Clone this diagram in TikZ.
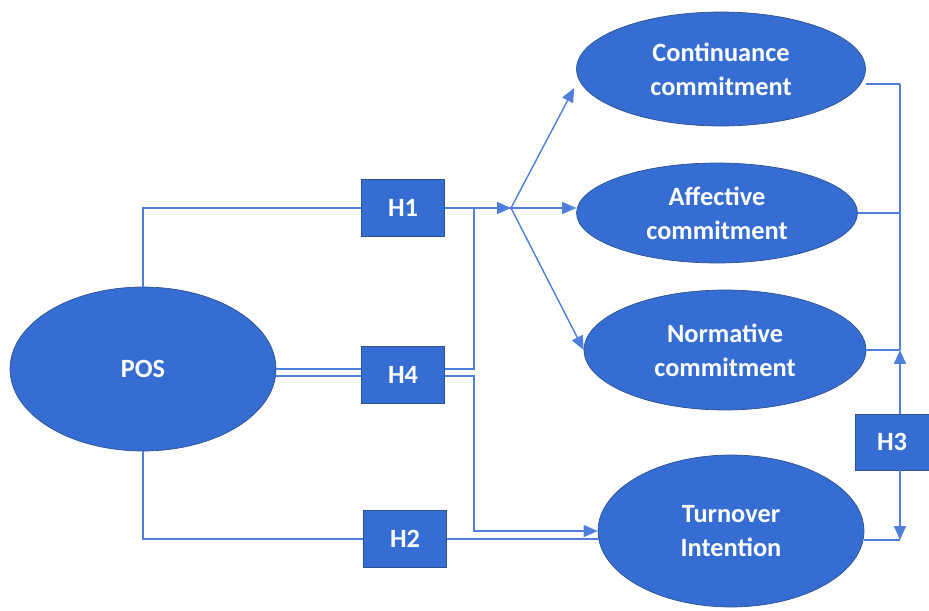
\documentclass[tikz,border=0pt]{standalone}
\usepackage{fontspec}
\setmainfont{Carlito}
\usetikzlibrary{shapes.geometric,positioning,arrows.meta,calc}

\definecolor{nodeblue}{HTML}{366DD3}
\definecolor{edgeblue}{HTML}{2F528F}
\definecolor{lineblue}{HTML}{4F7FDB}

\begin{document}
\begin{tikzpicture}[
  x=0.02cm, y=-0.02cm,
  var/.style={ellipse, draw=edgeblue, fill=nodeblue, text=white, align=center, inner sep=0pt, font=\fontsize{15}{19.5}\selectfont\bfseries},
  hyp/.style={rectangle, draw=edgeblue, fill=nodeblue, text=white, inner sep=0pt, minimum width=1.66cm, minimum height=1.14cm, font=\fontsize{15}{18}\selectfont\bfseries},
  link/.style={draw=lineblue, line width=0.8pt},
  arrow/.style={link, -{Triangle[length=2.8mm, width=2.4mm]}},
]
\useasboundingbox (0,0) rectangle (929,611);

% === Constructs ===
\node[var, minimum width=5.78cm, minimum height=2.28cm] (cc) at (721, 69) {Continuance\\commitment};
\node[var, minimum width=5.62cm, minimum height=2.0cm] (ac) at (717, 213) {Affective\\commitment};
\node[var, minimum width=5.64cm, minimum height=2.4cm] (nc) at (725, 350) {Normative\\commitment};
\node[var, minimum width=5.32cm, minimum height=3.04cm] (ti) at (731, 531) {Turnover\\Intention};
\node[var, minimum width=5.32cm, minimum height=3.28cm] (pos) at (143, 369) {POS};

% === Hypotheses ===
\node[hyp] (h1) at (403, 208) {H1};
\node[hyp] (h4) at (403, 375) {H4};
\node[hyp] (h2) at (405, 539) {H2};
\node[hyp, minimum width=1.48cm, minimum height=1.12cm] (h3) at (892, 442) {H3};

% helper points
\coordinate (split) at (511, 208);
\coordinate (j4) at (474, 208);
\coordinate (cc-in) at ([yshift=-0.38cm, xshift=-0.04cm]cc.west);
\coordinate (cc-out) at ([yshift=-0.3cm]cc.east);
\coordinate (rail) at (900, 84);
\coordinate (pos-lo) at ([yshift=-1.4mm]pos.east);
\coordinate (ti-lo) at ([yshift=-1.8mm]ti.east);

% === H1: POS -> commitments ===
\draw[link] (pos.north) |- (h1.west);
\draw[arrow] (h1.east) -- (split);
\draw[arrow] (split) -- (cc-in);
\draw[arrow] (split) -- (split -| ac.west);
\draw[arrow] (split) -- (nc.west);

% === H4: through the commitments ===
\draw[link] (pos.east) -- (pos.east -| h4.west);
\draw[link] (pos-lo) -- (pos-lo -| h4.west);
\draw[link] (pos.east -| h4.east) -| (j4) -- (split);
\draw[arrow] (pos-lo -| h4.east) -| (j4 |- ti.west) -- (ti.west);

% === H2: POS -> turnover ===
\draw[link] (pos.south) |- (h2.west);
\draw[link] (h2.east) -- (h2.east -| ti.west);

% === H3: commitments -> turnover ===
\draw[link] (cc-out) -- (cc-out -| rail);
\draw[link] (ac.east) -- (ac.east -| rail);
\draw[link] (nc.east) -- (nc.east -| rail);
\draw[link] (ti-lo) -- (ti-lo -| rail);
\draw[link] (rail) -- (rail |- nc.east);
\draw[arrow] (rail |- h3.north) -- (rail |- nc.east);
\draw[arrow] (rail |- h3.south) -- (rail |- ti-lo);

\end{tikzpicture}
\end{document}
